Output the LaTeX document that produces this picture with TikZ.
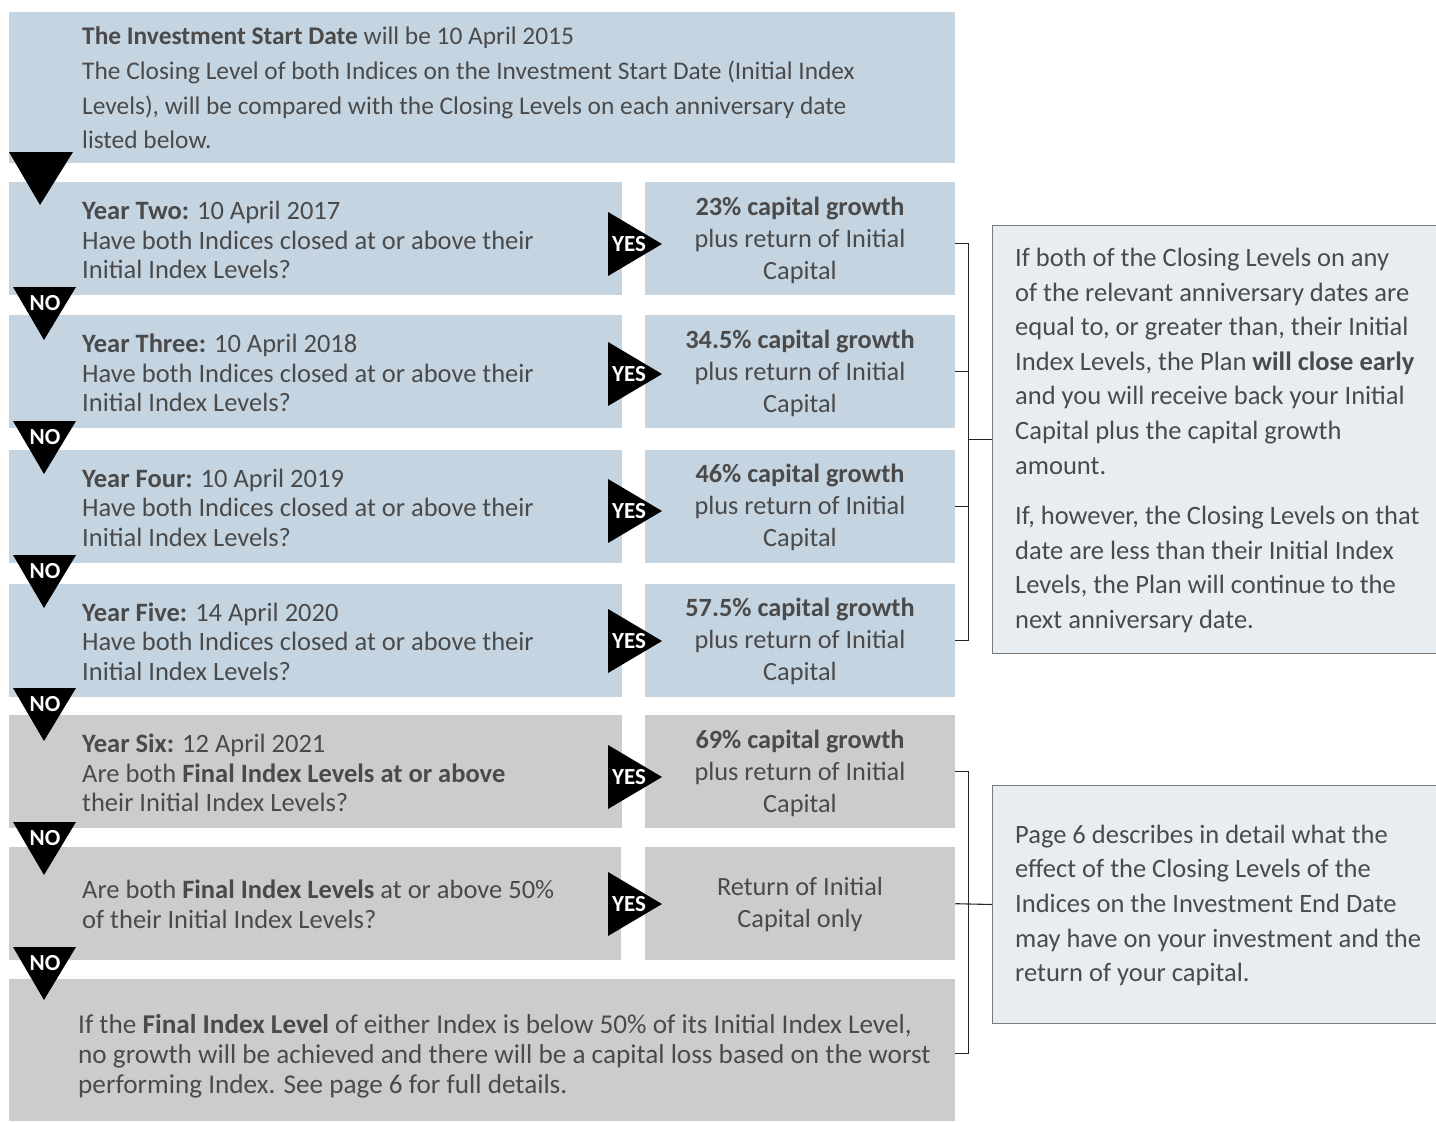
\documentclass[tikz,border=0pt]{standalone}
\usepackage{fontspec}
\setmainfont{Carlito}
\definecolor{boxblue}{HTML}{C5D4E1}
\definecolor{boxgrey}{HTML}{CBCCCB}
\definecolor{notefill}{HTML}{E8EDF2}
\definecolor{noteline}{HTML}{7A7A7A}
\definecolor{txt}{HTML}{4A4A4A}
\begin{document}
\begin{tikzpicture}[x=1pt,y=-1pt,
  blueb/.style={fill=boxblue,draw=none,anchor=north west,inner sep=0pt},
  greyb/.style={fill=boxgrey,draw=none,anchor=north west,inner sep=0pt},
  noteb/.style={fill=notefill,draw=noteline,line width=1pt,anchor=north west,inner sep=0pt},
  lefttxt/.style={anchor=west,align=left,inner sep=0pt,text=txt,font=\fontsize{26.5}{29.5}\selectfont},
  righttxt/.style={anchor=center,align=center,inner sep=0pt,text=txt,font=\fontsize{26.3}{32}\selectfont},
  notetxt/.style={anchor=west,align=left,inner sep=0pt,text=txt,font=\fontsize{26.5}{34.6}\selectfont},
  tri/.style={fill=black,draw=none},
  trilabel/.style={text=white,inner sep=0pt,font=\fontsize{23}{23}\selectfont\bfseries},
  bracket/.style={draw=black!85,line width=1.1pt}]
\useasboundingbox (0,0) rectangle (1436,1122);

% top box
\node[blueb,minimum width=946,minimum height=151] (top) at (9,12) {};
\node[lefttxt,font=\fontsize{25.4}{34.7}\selectfont] (toptxt) at (82,88) {\textbf{The Investment Start Date} will be 10 April 2015\\
The Closing Level of both Indices on the Investment Start Date (Initial Index\\
Levels), will be compared with the Closing Levels on each anniversary date\\
listed below.};

% question boxes
\node[blueb,minimum width=613,minimum height=113] (q1) at (9,182) {};
\node[blueb,minimum width=613,minimum height=113] (q2) at (9,315) {};
\node[blueb,minimum width=613,minimum height=113] (q3) at (9,450) {};
\node[blueb,minimum width=613,minimum height=113] (q4) at (9,584) {};
\node[greyb,minimum width=613,minimum height=113] (q5) at (9,715) {};
\node[greyb,minimum width=612,minimum height=113] (q6) at (9,847) {};

% answer boxes
\node[blueb,minimum width=310,minimum height=113] (a1) at (645,182) {};
\node[blueb,minimum width=310,minimum height=113] (a2) at (645,315) {};
\node[blueb,minimum width=310,minimum height=113] (a3) at (645,450) {};
\node[blueb,minimum width=310,minimum height=113] (a4) at (645,584) {};
\node[greyb,minimum width=310,minimum height=113] (a5) at (645,715) {};
\node[greyb,minimum width=310,minimum height=113] (a6) at (645,847) {};

% final box
\node[greyb,minimum width=946,minimum height=142] (fin) at (9,979) {};

% note boxes
\node[noteb,minimum width=444,minimum height=428] (n1) at (992,225) {};
\node[noteb,minimum width=444,minimum height=238] (n2) at (992,785) {};

% question texts
\node[lefttxt] (qt1) at (82,240) {\textbf{Year Two:} 10 April 2017\\Have both Indices closed at or above their\\Initial Index Levels?};
\node[lefttxt] (qt2) at (82,373) {\textbf{Year Three:} 10 April 2018\\Have both Indices closed at or above their\\Initial Index Levels?};
\node[lefttxt] (qt3) at (82,507.5) {\textbf{Year Four:} 10 April 2019\\Have both Indices closed at or above their\\Initial Index Levels?};
\node[lefttxt] (qt4) at (82,641.5) {\textbf{Year Five:} 14 April 2020\\Have both Indices closed at or above their\\Initial Index Levels?};
\node[lefttxt] (qt5) at (82,773) {\textbf{Year Six:} 12 April 2021\\Are both \textbf{Final Index Levels at or above}\\their Initial Index Levels?};
\node[lefttxt] (qt6) at (82,904.5) {Are both \textbf{Final Index Levels} at or above 50\%\\of their Initial Index Levels?};
\node[lefttxt,font=\fontsize{27.2}{29.8}\selectfont] (fintxt) at (78,1056) {If the \textbf{Final Index Level} of either Index is below 50\% of its Initial Index Level,\\no growth will be achieved and there will be a capital loss based on the worst\\performing Index. See page 6 for full details.};

% answer texts
\node[righttxt] (at1) at (800,240) {\textbf{23\% capital growth}\\plus return of Initial\\Capital};
\node[righttxt] (at2) at (800,373) {\textbf{34.5\% capital growth}\\plus return of Initial\\Capital};
\node[righttxt] (at3) at (800,507) {\textbf{46\% capital growth}\\plus return of Initial\\Capital};
\node[righttxt] (at4) at (800,641) {\textbf{57.5\% capital growth}\\plus return of Initial\\Capital};
\node[righttxt] (at5) at (800,773) {\textbf{69\% capital growth}\\plus return of Initial\\Capital};
\node[righttxt] (at6) at (800,904) {Return of Initial\\Capital only};

% note texts
\node[notetxt] (nt1) at (1015,440.5) {If both of the Closing Levels on any\\
of the relevant anniversary dates are\\
equal to, or greater than, their Initial\\
Index Levels, the Plan \textbf{will close early}\\
and you will receive back your Initial\\
Capital plus the capital growth\\
amount.\\[16pt]
If, however, the Closing Levels on that\\
date are less than their Initial Index\\
Levels, the Plan will continue to the\\
next anniversary date.};
\node[notetxt] (nt2) at (1015,905.5) {Page 6 describes in detail what the\\
effect of the Closing Levels of the\\
Indices on the Investment End Date\\
may have on your investment and the\\
return of your capital.};

% first down triangle
\fill[tri] (9,152) -- (73,152) -- (40,205) -- cycle;

% NO triangles
\foreach \t/\n in {287/no1,421/no2,555/no3,688/no4,822/no5,947/no6}{
  \fill[tri] (13,\t) -- (76,\t) -- (44,\t+53) -- cycle;
  \node[trilabel] (\n) at (45,\t+16) {NO};
}

% YES triangles
\foreach \c/\n in {244/yes1,374/yes2,511/yes3,641/yes4,777/yes5,904/yes6}{
  \fill[tri] (608,\c-32) -- (608,\c+32) -- (662,\c) -- cycle;
  \node[trilabel] (\n) at (629,\c) {YES};
}

% brackets
\draw[bracket] ([yshift=-4.5pt]a1.east) -- ++(13,0) |- (a4.east);
\draw[bracket] (a2.east) -- ++(13,0);
\draw[bracket] (a3.east) -- ++(13,0);
\draw[bracket] (n1.west) -- ++(-24,0);
\draw[bracket] (a5.east) -- ++(13,0) |- ([yshift=-3pt]fin.east);
\draw[bracket] (a6.east) -- (n2.west);
\end{tikzpicture}
\end{document}
